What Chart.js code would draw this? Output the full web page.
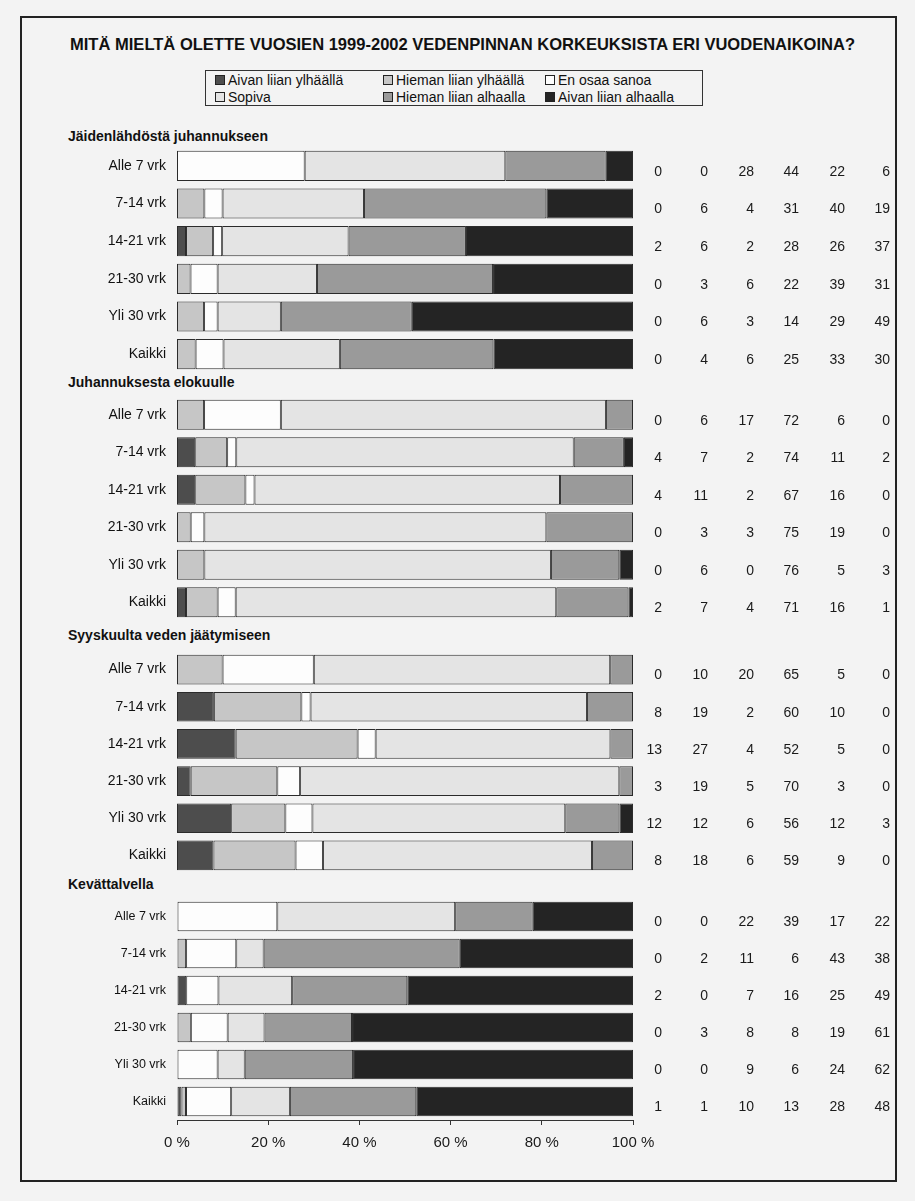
<!DOCTYPE html>
<html><head><meta charset="utf-8">
<script src="https://cdn.jsdelivr.net/npm/chart.js@4.4.1/dist/chart.umd.min.js"></script>
<style>
html,body{margin:0;padding:0;background:#f3f3f3;}
#page{position:relative;width:915px;height:1201px;overflow:hidden;font-family:"Liberation Sans",Arial,sans-serif;color:#111;}
#frame{position:absolute;left:20px;top:16px;width:873px;height:1162px;border:2px solid #222;}
#title{position:absolute;top:35px;left:70px;font-weight:bold;font-size:17px;line-height:20px;white-space:nowrap;transform-origin:0 0;}
#legend{position:absolute;left:205px;top:70px;width:496px;height:34px;border:1px solid #333;}
.li{position:absolute;font-size:14px;line-height:16px;white-space:nowrap;}
.li i{display:inline-block;width:8px;height:8px;border:1px solid #222;margin-right:3px;vertical-align:0px;}
.gh{position:absolute;left:68px;font-weight:bold;font-size:14px;line-height:16px;white-space:nowrap;}
canvas{position:absolute;left:20px;}
</style></head>
<body><div id="page">
<div id="frame"></div>
<div id="title"></div>
<div id="legend"></div>
<canvas id="c0" width="875" height="226" style="top:147px"></canvas>
<canvas id="c1" width="875" height="225" style="top:396px"></canvas>
<canvas id="c2" width="875" height="223" style="top:651px"></canvas>
<canvas id="c3" width="875" height="262" style="top:898px"></canvas>
</div>
<script>
const chartTitle = "MITÄ MIELTÄ OLETTE VUOSIEN 1999-2002 VEDENPINNAN KORKEUKSISTA ERI VUODENAIKOINA?";
const seriesNames = ["Aivan liian ylhäällä","Hieman liian ylhäällä","En osaa sanoa","Sopiva","Hieman liian alhaalla","Aivan liian alhaalla"];
const seriesColors = ["#4d4d4d","#c6c6c6","#fdfdfd","#e4e4e4","#9a9a9a","#242424"];
const groupTitles = ["Jäidenlähdöstä juhannukseen","Juhannuksesta elokuulle","Syyskuulta veden jäätymiseen","Kevättalvella"];
const rowLabels = ["Alle 7 vrk","7-14 vrk","14-21 vrk","21-30 vrk","Yli 30 vrk","Kaikki"];
const xTicks = [0,20,40,60,80,100];

// rows: [Aivan ylh, Hieman ylh, En osaa, Sopiva, Hieman alh, Aivan alh]
const jaidenlahdostaJuhannukseen = [[0,0,28,44,22,6],[0,6,4,31,40,19],[2,6,2,28,26,37],[0,3,6,22,39,31],[0,6,3,14,29,49],[0,4,6,25,33,30]];
const juhannuksestaElokuulle = [[0,6,17,72,6,0],[4,7,2,74,11,2],[4,11,2,67,16,0],[0,3,3,75,19,0],[0,6,0,76,15,3],[2,7,4,71,16,1]];
const juhannuksestaElokuullePrinted = [[0,6,17,72,6,0],[4,7,2,74,11,2],[4,11,2,67,16,0],[0,3,3,75,19,0],[0,6,0,76,5,3],[2,7,4,71,16,1]];
const syyskuultaJaatymiseen = [[0,10,20,65,5,0],[8,19,2,60,10,0],[13,27,4,52,5,0],[3,19,5,70,3,0],[12,12,6,56,12,3],[8,18,6,59,9,0]];
const kevattalvella = [[0,0,22,39,17,22],[0,2,11,6,43,38],[2,0,7,16,25,49],[0,3,8,8,19,61],[0,0,9,6,24,62],[1,1,10,13,28,48]];

const groups = [
  {bars: jaidenlahdostaJuhannukseen, printed: jaidenlahdostaJuhannukseen},
  {bars: juhannuksestaElokuulle, printed: juhannuksestaElokuullePrinted},
  {bars: syyskuultaJaatymiseen, printed: syyskuultaJaatymiseen},
  {bars: kevattalvella, printed: kevattalvella}
];

// Title
const t = document.getElementById('title');
t.textContent = chartTitle;
const tw = t.getBoundingClientRect().width;
t.style.transform = 'scaleX(' + (785 / tw) + ')';

// Legend
const lg = document.getElementById('legend');
const colX = [9, 177, 339], rowY = [1, 18];
seriesNames.forEach((n, i) => {
  const d = document.createElement('div');
  d.className = 'li';
  d.style.left = colX[i % 3] + 'px';
  d.style.top = rowY[Math.floor(i / 3)] + 'px';
  const sq = document.createElement('i');
  sq.style.background = seriesColors[i];
  d.appendChild(sq);
  d.appendChild(document.createTextNode(n));
  lg.appendChild(d);
});

// Group headings
const headTops = [128, 374, 627, 876];
groupTitles.forEach((g, i) => {
  const d = document.createElement('div');
  d.className = 'gh';
  d.style.top = headTops[i] + 'px';
  d.textContent = g;
  document.getElementById('page').appendChild(d);
});

const numColRight = [642, 688, 734, 779, 825, 870];
function numbersPlugin(printed) {
  return {
    id: 'numbers',
    afterDatasetsDraw(chart) {
      const c = chart.ctx, ys = chart.scales.y;
      c.save();
      c.font = '14px "Liberation Sans", Arial, sans-serif';
      c.fillStyle = '#1a1a1a';
      c.textAlign = 'right';
      c.textBaseline = 'middle';
      printed.forEach((row, ri) => {
        const y = ys.getPixelForValue(ri) + 6;
        row.forEach((v, ci) => c.fillText(String(v), numColRight[ci], y));
      });
      c.restore();
    }
  };
}

groups.forEach((g, gi) => {
  const isLast = gi === groups.length - 1;
  const norm = g.bars.map(r => { const s = r.reduce((a, b) => a + b, 0); return r.map(v => v / s * 100); });
  const datasets = seriesNames.map((name, si) => ({
    label: name,
    data: norm.map(r => r[si]),
    backgroundColor: seriesColors[si],
    borderColor: '#2b2b2b',
    borderWidth: 1,
    borderSkipped: false,
    barPercentage: 1,
    categoryPercentage: 0.8
  }));
  new Chart(document.getElementById('c' + gi), {
    type: 'bar',
    data: {labels: rowLabels, datasets},
    options: {
      indexAxis: 'y', responsive: false, animation: false, devicePixelRatio: 1,
      layout: {padding: {top: 0, bottom: 0, left: 0, right: 262}},
      plugins: {legend: {display: false}, tooltip: {enabled: false}},
      scales: {
        x: {
          stacked: true, min: 0, max: 100, display: isLast,
          afterBuildTicks: s => { s.ticks = xTicks.map(v => ({value: v})); },
          ticks: {callback: v => v + ' %', color: '#1a1a1a', font: {size: 15, family: '"Liberation Sans", Arial, sans-serif'}, padding: 9, maxRotation: 0, autoSkip: false},
          grid: {display: true, drawOnChartArea: false, drawTicks: true, tickLength: 5, color: '#333'},
          border: {display: true, color: '#333', width: 1},
          afterFit: s => { if (isLast) s.height = 40; }
        },
        y: {
          stacked: true,
          grid: {display: false, drawTicks: false},
          border: {display: false},
          ticks: {padding: 11, color: '#111', font: {size: isLast ? 12.5 : 14, family: '"Liberation Sans", Arial, sans-serif'}},
          afterFit: s => { s.width = 157; s.paddingTop = 0; s.paddingBottom = 0; }
        }
      }
    },
    plugins: [numbersPlugin(g.printed)]
  });
});
</script>
</body></html>
